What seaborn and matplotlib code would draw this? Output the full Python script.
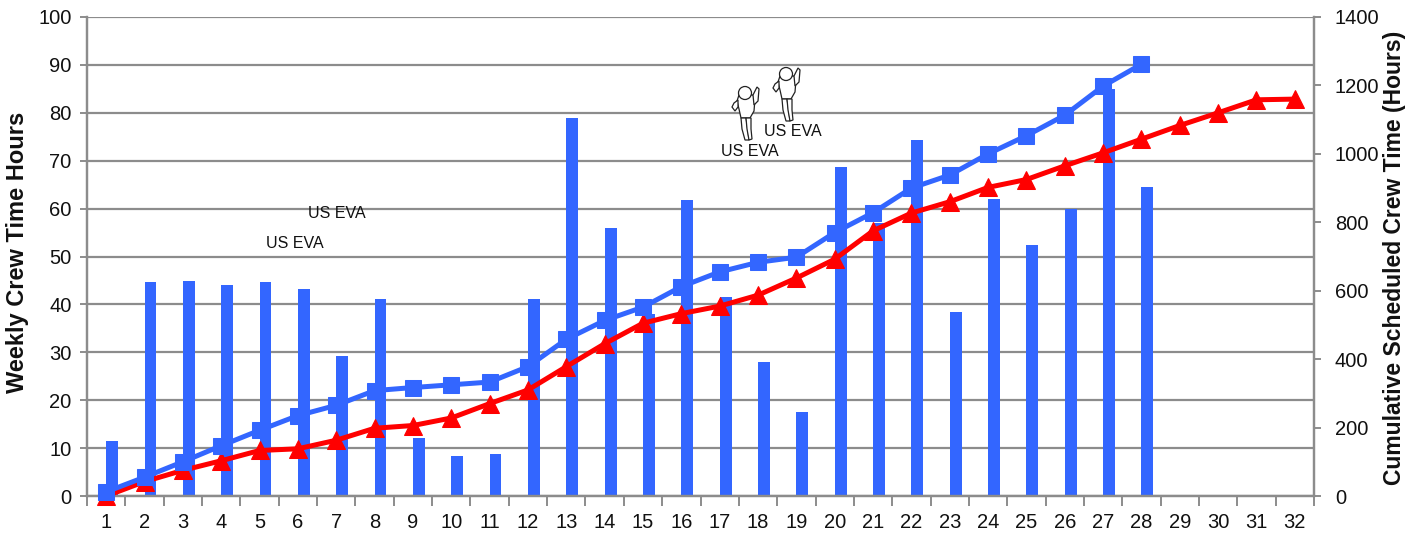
import numpy as np
import pandas as pd
import seaborn as sns
from matplotlib import pyplot as plt
from matplotlib.patches import Ellipse, Polygon

weeks = list(range(1, 33))
weekly_hours = [11.5, 44.7, 44.8, 44, 44.7, 43.2, 29.2, 41.2, 12.2, 8.3, 8.7, 41.2, 79, 56, 38,
                61.8, 41.5, 28, 17.5, 68.6, 57, 74.3, 38.5, 62, 52.4, 60, 85, 64.6,
                np.nan, np.nan, np.nan, np.nan]
cum_scheduled = [12, 55, 100, 147, 192, 235, 265, 308, 317, 325, 333, 378, 458, 513, 552, 612,
                 655, 683, 698, 770, 828, 900, 938, 1000, 1053, 1113, 1198, 1262]
cum_actual = [0, 42, 75, 103, 133, 138, 163, 198, 206, 228, 270, 310, 378, 445, 505, 533,
              555, 587, 637, 692, 775, 827, 860, 902, 925, 965, 1003, 1043, 1083, 1120, 1158, 1160]
left_ticks = list(range(0, 101, 10))
right_ticks = list(range(0, 1401, 200))
eva_labels = ["US EVA", "US EVA", "US EVA", "US EVA"]

BLUE = "#3366ff"
RED = "#ff0000"
GRAY = "#8c8c8c"

sns.set_theme(style="white")
plt.rcParams['font.family'] = ['Liberation Sans', 'DejaVu Sans']

W, H = 1414, 536
fig = plt.figure(figsize=(W / 100, H / 100), dpi=100)
ax = fig.add_axes([87 / W, 1 - 496 / H, (1314 - 87) / W, (496 - 17) / H])

# empty hue level keeps the bars off to the right of the tick, like the excel original
bars = pd.DataFrame({
    "week": weeks * 2,
    "hours": [np.nan] * 32 + weekly_hours,
    "series": ["spacer"] * 32 + ["weekly"] * 32,
})
sns.barplot(data=bars, x="week", y="hours", hue="series", native_scale=True, width=0.62,
            gap=0, palette={"spacer": BLUE, "weekly": BLUE}, saturation=1, legend=False,
            errorbar=None, linewidth=0, ax=ax, zorder=2)

ax.set_xlim(0.5, 32.5)
ax.set_ylim(0, 100)
ax.set_yticks(left_ticks)
ax.set_xticks(weeks)
ax.set_xticks(np.arange(0.5, 33), minor=True)
ax.set_xlabel("")
ax.set_ylabel("")
ax.grid(axis="y", color=GRAY, linewidth=1.6, zorder=1)
ax.set_axisbelow(True)
ax.tick_params(axis="y", left=True, length=5, width=1.4, color=GRAY, labelsize=14.5, pad=6,
               labelcolor="#111111")
ax.tick_params(axis="x", which="major", bottom=False, labelsize=14.5, pad=6, labelcolor="#111111")
ax.tick_params(axis="x", which="minor", bottom=True, length=7, width=1.4, color=GRAY)

ax2 = ax.twinx()
sns.lineplot(x=weeks, y=cum_actual, color=RED, linewidth=3.6, marker="^", markersize=13,
             markeredgecolor=RED, clip_on=False, ax=ax2, zorder=3)
sns.lineplot(x=weeks[:len(cum_scheduled)], y=cum_scheduled, color=BLUE, linewidth=3.6, marker="s",
             markersize=11.5, markeredgecolor=BLUE, clip_on=False, ax=ax2, zorder=4)
ax2.set_ylim(0, 1400)
ax2.set_yticks(right_ticks)
ax2.set_ylabel("")
ax2.grid(False)
ax2.tick_params(axis="y", right=True, length=5, width=1.4, color=GRAY, labelsize=14.5, pad=10,
                labelcolor="#111111")

for a in (ax, ax2):
    for s in a.spines.values():
        s.set_color(GRAY)
        s.set_linewidth(1.6)
    a.spines["top"].set_visible(False)

fig.text(18 / W, 1 - 252 / H, "Weekly Crew Time Hours", rotation=90, ha="center", va="center",
         fontsize=17, fontweight="bold", color="#111111")
fig.text(1394 / W, 1 - 258 / H, "Cumulative Scheduled Crew Time (Hours)", rotation=90, ha="center",
         va="center", fontsize=16.5, fontweight="bold", color="#111111")

for (px, py), label in zip([(295, 244), (337, 213), (750, 151), (793, 132)], eva_labels):
    fig.text(px / W, 1 - py / H, label, ha="center", va="center", fontsize=11.5, color="#111111")


def astronaut(cx, top):
    # little outline figure, pixel coordinates of the whole image
    def P(dx, dy):
        return ((cx + dx) / W, 1 - (top + dy) / H)
    kw = dict(transform=fig.transFigure, facecolor="white", edgecolor="#222222", linewidth=0.9, zorder=6)
    parts = [
        [(-7, 8), (7, 8), (9, 12), (8, 24), (4, 31), (-5, 31), (-7, 22), (-9, 14)],
        [(-5, 31), (0, 31), (2, 44), (3, 53), (-1, 53), (-4, 42)],
        [(0, 31), (5, 31), (5, 42), (6, 52), (3, 53), (1, 42)],
        [(-8, 13), (-12, 16), (-14, 20), (-11, 24), (-8, 20)],
        [(7, 8), (11, 0), (13, 2), (12, 14), (8, 18)],
    ]
    for pts in parts:
        fig.add_artist(Polygon([P(*p) for p in pts], closed=True, **kw))
    x0, y0 = P(-1, 6)
    fig.add_artist(Ellipse((x0, y0), 13 / W, 13 / H, **kw))


astronaut(746, 87)
astronaut(787, 68)

fig.savefig("out.png", dpi=100)
